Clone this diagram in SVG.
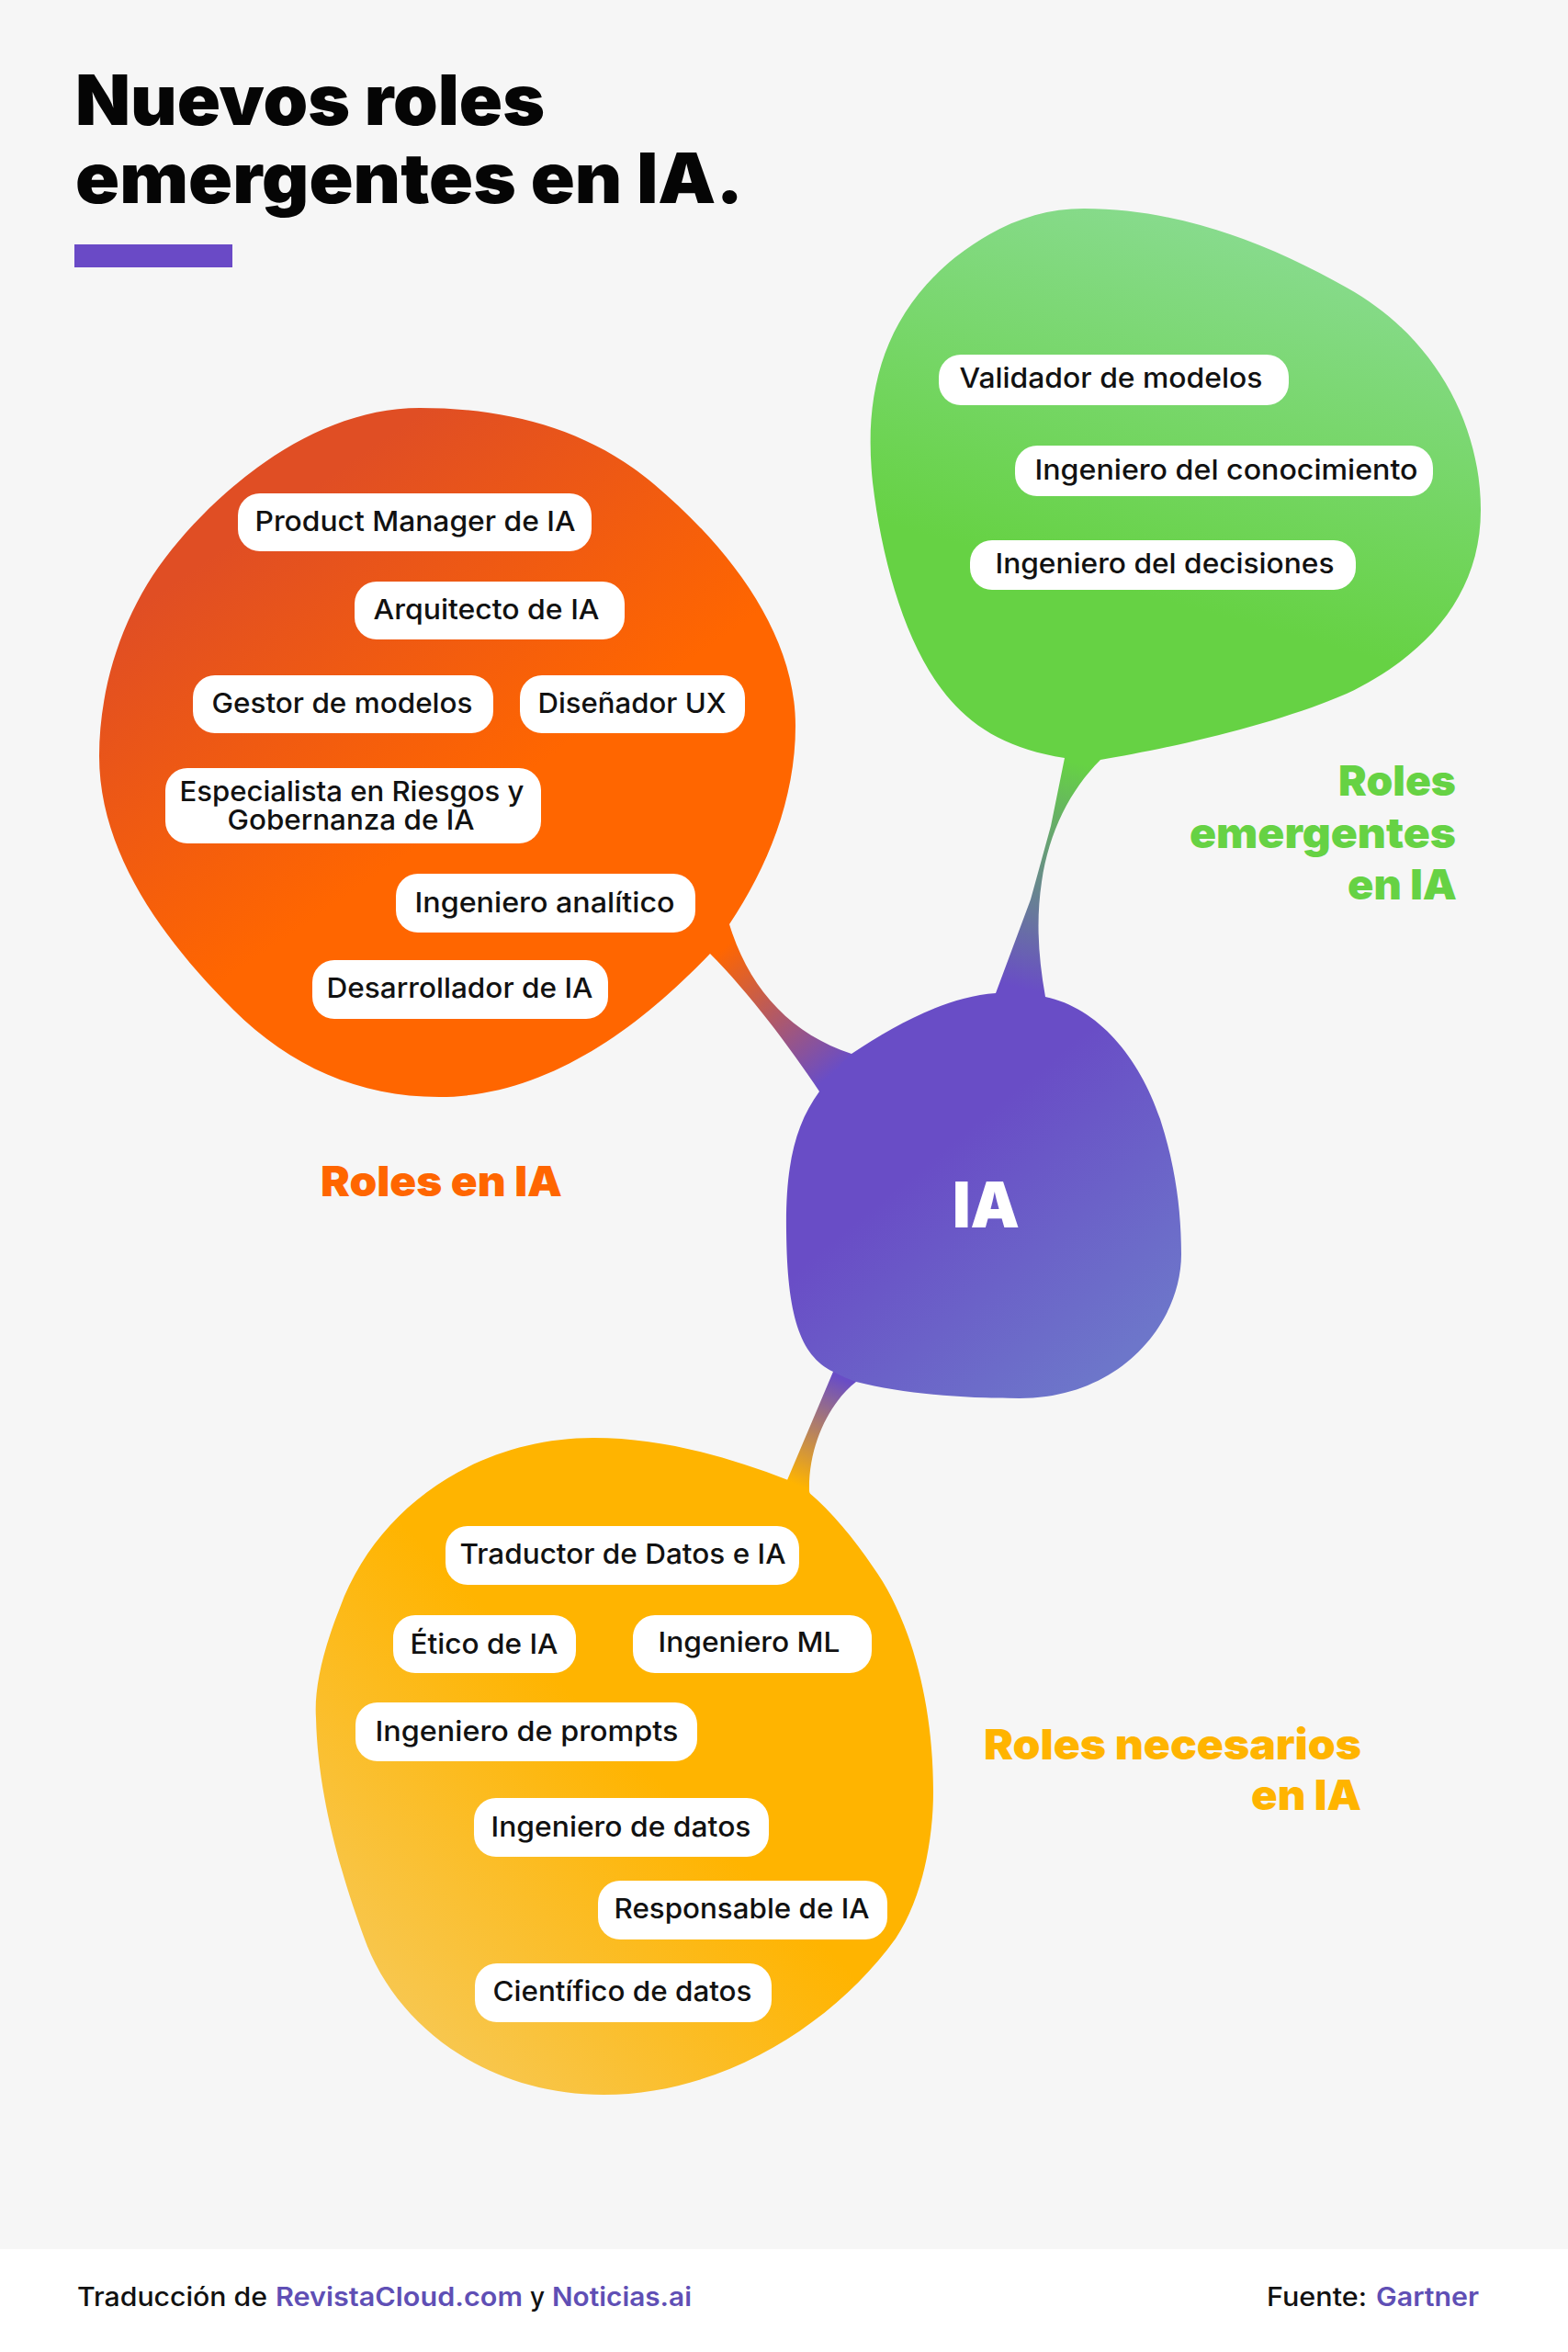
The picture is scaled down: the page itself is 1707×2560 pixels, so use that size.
<svg xmlns="http://www.w3.org/2000/svg" width="1707" height="2560" viewBox="0 0 1707 2560">
<style>
.pill{fill:#fff}
.t{font-family:"Inter","Liberation Sans",sans-serif;font-weight:500;font-size:30px;fill:#111;transform:translateX(-1.5px)}
.big{font-family:"Inter","Liberation Sans",sans-serif;font-weight:900;font-size:46px}
.foot{font-family:"Inter","Liberation Sans",sans-serif;font-weight:500;font-size:28px;fill:#111}
.link{font-weight:600;fill:#5f4fb5}
</style>
<defs>
<linearGradient id="gO" gradientUnits="userSpaceOnUse" x1="340" y1="530" x2="560" y2="850"><stop offset="0" stop-color="#e04e24"/><stop offset="1" stop-color="#ff6600"/></linearGradient>
<linearGradient id="gG" gradientUnits="userSpaceOnUse" x1="1400" y1="260" x2="1290" y2="660"><stop offset="0" stop-color="#88db8e"/><stop offset="1" stop-color="#66d244"/></linearGradient>
<linearGradient id="gY" gradientUnits="userSpaceOnUse" x1="740" y1="1960" x2="430" y2="2270"><stop offset="0" stop-color="#ffb400"/><stop offset="1" stop-color="#f6ca5c"/></linearGradient>
<linearGradient id="gP" gradientUnits="userSpaceOnUse" x1="1040" y1="1240" x2="1230" y2="1470"><stop offset="0" stop-color="#694dc6"/><stop offset="1" stop-color="#6d76ca"/></linearGradient>
<linearGradient id="cO" gradientUnits="userSpaceOnUse" x1="790" y1="1030" x2="905" y2="1170"><stop offset="0" stop-color="#ff6600"/><stop offset="1" stop-color="#694dc6"/></linearGradient>
<linearGradient id="cG" gradientUnits="userSpaceOnUse" x1="1170" y1="830" x2="1110" y2="1075"><stop offset="0" stop-color="#66d244"/><stop offset="1" stop-color="#694dc6"/></linearGradient>
<linearGradient id="cY" gradientUnits="userSpaceOnUse" x1="915" y1="1500" x2="865" y2="1615"><stop offset="0" stop-color="#694dc6"/><stop offset="1" stop-color="#ffb400"/></linearGradient>
</defs>
<rect width="1707" height="2560" fill="#f6f6f6"/>
<rect y="2448" width="1707" height="112" fill="#fff"/>
<g id="title">
<text x="82" y="136" font-family="Inter,'Liberation Sans',sans-serif" font-weight="900" font-size="76" fill="#050505" textLength="511" lengthAdjust="spacingAndGlyphs">Nuevos roles</text>
<text x="82" y="221" font-family="Inter,'Liberation Sans',sans-serif" font-weight="900" font-size="76" fill="#050505" textLength="727" lengthAdjust="spacingAndGlyphs">emergentes en IA.</text>
<rect x="81" y="266" width="172" height="25" fill="#6a4ac6"/>
</g>
<g id="connectors">
<path fill="url(#cO)" d="M794 1006C815 1075 860 1125 927 1147L945 1170L905 1205L892 1188C860 1140 815 1080 773 1038L760 1020L790 990Z"/>
<path fill="url(#cG)" d="M1159 825L1144 899L1122 979L1084 1081L1084 1100L1140 1100L1138 1085C1130 1040 1128 1000 1134 960C1142 905 1165 860 1198 827L1198 810L1159 810Z"/>
<path fill="url(#cY)" d="M907 1493L857 1611L850 1630L885 1640L881 1623C880 1570 905 1525 932 1504L935 1485L910 1480Z"/>
</g>
<g id="node-ia">
<path fill="url(#gP)" d="M927 1147C975 1115 1030 1085 1084 1081C1102 1080 1120 1081 1138 1085C1195 1097 1240 1150 1263 1218C1280 1270 1286 1320 1286 1365C1286 1440 1220 1522 1110 1522C1040 1522 980 1516 932 1504C923 1501 915 1497 907 1493C870 1475 857 1430 856 1340C855 1270 865 1225 892 1188C903 1172 915 1158 927 1147Z"/>
<text x="1037" y="1336" font-family="Inter,'Liberation Sans',sans-serif" font-weight="900" font-size="69" fill="#fff" textLength="73" lengthAdjust="spacingAndGlyphs">IA</text>
</g>
<g id="node-roles-ia">
<path fill="url(#gO)" d="M794 1006C835 945 866 870 866 790C866 690 795 597 712 527C640 466 550 444 457 444C350 444 250 520 187 598C135 662 108 745 108 823C108 930 180 1025 253 1098C315 1160 390 1194 478 1194C590 1194 690 1125 773 1038Z"/>
<text class="big" x="349" y="1302" fill="#ff6600" textLength="263" lengthAdjust="spacingAndGlyphs">Roles en IA</text>
</g>
<g id="node-roles-emergentes">
<path fill="url(#gG)" d="M1159 825C1095 815 1055 790 1025 750C985 697 960 610 950 525C940 430 960 345 1040 280C1085 245 1130 227 1180 227C1290 227 1390 270 1466 313C1560 365 1612 460 1612 555C1612 650 1550 715 1466 755C1385 790 1270 815 1198 827Z"/>
<text class="big" x="1457" y="866" fill="#66d244" textLength="128" lengthAdjust="spacingAndGlyphs">Roles</text>
<text class="big" x="1295" y="923" fill="#66d244" textLength="290" lengthAdjust="spacingAndGlyphs">emergentes</text>
<text class="big" x="1467" y="979" fill="#66d244" textLength="119" lengthAdjust="spacingAndGlyphs">en IA</text>
</g>
<g id="node-roles-necesarios">
<path fill="url(#gY)" d="M858 1611C790 1585 720 1565 646 1565C520 1565 410 1640 370 1750C350 1800 342 1840 344 1870C346 1960 375 2050 396 2108C430 2205 530 2280 657 2280C790 2280 910 2200 975 2110C1005 2065 1016 2000 1016 1950C1016 1850 990 1760 950 1705C930 1675 905 1645 880 1624Z"/>
<text class="big" x="1071" y="1915" fill="#ffb400" textLength="411" lengthAdjust="spacingAndGlyphs">Roles necesarios</text>
<text class="big" x="1362" y="1970" fill="#ffb400" textLength="120" lengthAdjust="spacingAndGlyphs">en IA</text>
</g>
<g id="n-product-manager"><rect class="pill" x="259" y="537" width="385" height="63" rx="24"/><text class="t" x="279" y="578" textLength="349" lengthAdjust="spacingAndGlyphs">Product Manager de IA</text></g>
<g id="n-arquitecto"><rect class="pill" x="386" y="633" width="294" height="63" rx="24"/><text class="t" x="408" y="674" textLength="246" lengthAdjust="spacingAndGlyphs">Arquitecto de IA</text></g>
<g id="n-gestor"><rect class="pill" x="210" y="735" width="327" height="63" rx="24"/><text class="t" x="232" y="776" textLength="284" lengthAdjust="spacingAndGlyphs">Gestor de modelos</text></g>
<g id="n-disenador"><rect class="pill" x="566" y="735" width="245" height="63" rx="24"/><text class="t" x="587" y="776" textLength="205" lengthAdjust="spacingAndGlyphs">Diseñador UX</text></g>
<g id="n-especialista"><rect class="pill" x="180" y="836" width="409" height="82" rx="24"/><text class="t" x="197" y="872" textLength="375" lengthAdjust="spacingAndGlyphs">Especialista en Riesgos y</text><text class="t" x="249" y="903" textLength="269" lengthAdjust="spacingAndGlyphs">Gobernanza de IA</text></g>
<g id="n-analitico"><rect class="pill" x="431" y="951" width="326" height="64" rx="24"/><text class="t" x="453" y="993" textLength="283" lengthAdjust="spacingAndGlyphs">Ingeniero analítico</text></g>
<g id="n-desarrollador"><rect class="pill" x="340" y="1045" width="322" height="64" rx="24"/><text class="t" x="357" y="1086" textLength="290" lengthAdjust="spacingAndGlyphs">Desarrollador de IA</text></g>
<g id="n-validador"><rect class="pill" x="1022" y="386" width="381" height="55" rx="24"/><text class="t" x="1046" y="422" textLength="330" lengthAdjust="spacingAndGlyphs">Validador de modelos</text></g>
<g id="n-conocimiento"><rect class="pill" x="1105" y="485" width="455" height="55" rx="24"/><text class="t" x="1128" y="522" textLength="417" lengthAdjust="spacingAndGlyphs">Ingeniero del conocimiento</text></g>
<g id="n-decisiones"><rect class="pill" x="1056" y="588" width="420" height="54" rx="24"/><text class="t" x="1085" y="624" textLength="369" lengthAdjust="spacingAndGlyphs">Ingeniero del decisiones</text></g>
<g id="n-traductor"><rect class="pill" x="485" y="1661" width="385" height="64" rx="24"/><text class="t" x="502" y="1702" textLength="355" lengthAdjust="spacingAndGlyphs">Traductor de Datos e IA</text></g>
<g id="n-etico"><rect class="pill" x="428" y="1758" width="199" height="63" rx="24"/><text class="t" x="448" y="1800" textLength="161" lengthAdjust="spacingAndGlyphs">Ético de IA</text></g>
<g id="n-ml"><rect class="pill" x="689" y="1758" width="260" height="63" rx="24"/><text class="t" x="718" y="1798" textLength="198" lengthAdjust="spacingAndGlyphs">Ingeniero ML</text></g>
<g id="n-prompts"><rect class="pill" x="387" y="1853" width="372" height="64" rx="24"/><text class="t" x="410" y="1895" textLength="330" lengthAdjust="spacingAndGlyphs">Ingeniero de prompts</text></g>
<g id="n-datos"><rect class="pill" x="516" y="1957" width="321" height="64" rx="24"/><text class="t" x="536" y="1999" textLength="283" lengthAdjust="spacingAndGlyphs">Ingeniero de datos</text></g>
<g id="n-responsable"><rect class="pill" x="651" y="2047" width="315" height="64" rx="24"/><text class="t" x="670" y="2088" textLength="278" lengthAdjust="spacingAndGlyphs">Responsable de IA</text></g>
<g id="n-cientifico"><rect class="pill" x="517" y="2137" width="323" height="64" rx="24"/><text class="t" x="538" y="2178" textLength="282" lengthAdjust="spacingAndGlyphs">Científico de datos</text></g>
<g id="footer">
<text class="foot" x="84" y="2510" textLength="207" lengthAdjust="spacingAndGlyphs">Traducción de</text>
<text class="foot link" x="300" y="2510" textLength="269" lengthAdjust="spacingAndGlyphs">RevistaCloud.com</text>
<text class="foot" x="577" y="2510" textLength="16" lengthAdjust="spacingAndGlyphs">y</text>
<text class="foot link" x="601" y="2510" textLength="152" lengthAdjust="spacingAndGlyphs">Noticias.ai</text>
<text class="foot" x="1379" y="2510" textLength="109" lengthAdjust="spacingAndGlyphs">Fuente:</text>
<text class="foot link" x="1498" y="2510" textLength="112" lengthAdjust="spacingAndGlyphs">Gartner</text>
</g>
</svg>
